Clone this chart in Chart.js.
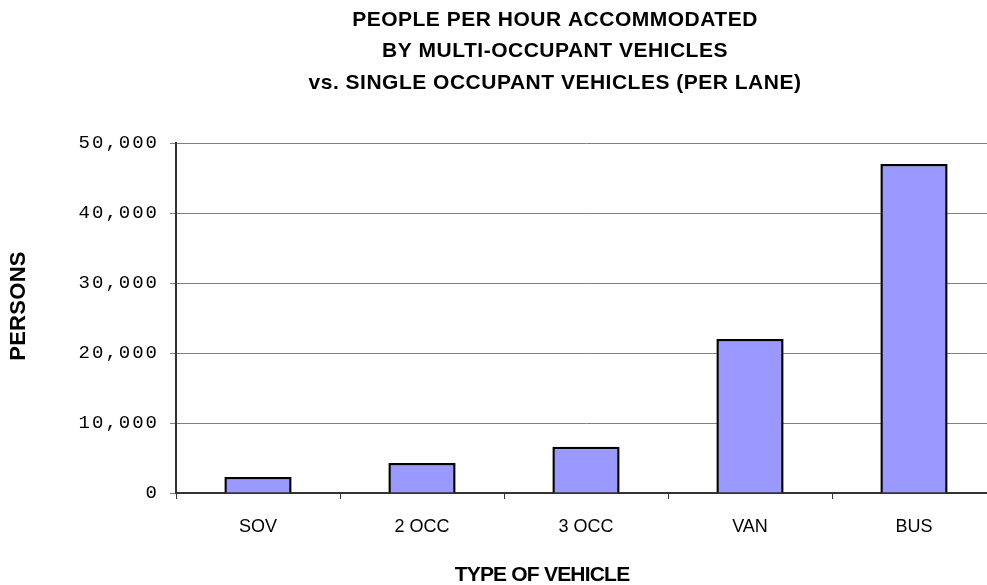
<!DOCTYPE html>
<html>
<head>
<meta charset="utf-8">
<script src="https://cdn.jsdelivr.net/npm/chart.js@4"></script>
<style>
  html, body { margin: 0; padding: 0; background: #fff; overflow: hidden; }
  #wrap { position: relative; width: 1000px; height: 585px; }
</style>
</head>
<body>
<div id="wrap"><canvas id="chart"></canvas></div>
<script>
// values
const vehicleTypes = ["SOV", "2 OCC", "3 OCC", "VAN", "BUS"];
const personsPerHour = [2300, 4300, 6600, 22000, 47000];
const titleLines = [
  "PEOPLE PER HOUR ACCOMMODATED",
  "BY MULTI-OCCUPANT VEHICLES",
  "vs. SINGLE OCCUPANT VEHICLES (PER LANE)",
];
const xTitle = "TYPE OF VEHICLE";
const yTitle = "PERSONS";

// tick labels use a spaced typewriter look; categories stay plain
const textPlugin = {
  id: "textPlugin",
  beforeDraw(chart) {
    chart.ctx.letterSpacing = "2px";
  },
  afterDatasetsDraw(chart) {
    chart.ctx.letterSpacing = "0px";
  },
  afterDraw(chart) {
    const ctx = chart.ctx;
    ctx.save();
    ctx.fillStyle = "#000";
    ctx.textAlign = "center";
    ctx.textBaseline = "middle";
    ctx.font = "bold 21px 'Liberation Sans', Arial, sans-serif";
    ctx.letterSpacing = "0.5px";
    titleLines.forEach((line, i) => {
      ctx.fillText(line, 555, 20 + i * 31.5);
    });
    ctx.letterSpacing = "-0.8px";
    ctx.fillText(xTitle, 542, 575);
    ctx.letterSpacing = "0.3px";
    ctx.font = "bold 22px 'Liberation Sans', Arial, sans-serif";
    ctx.translate(19, 306);
    ctx.rotate(-Math.PI / 2);
    ctx.fillText(yTitle, 0, 0);
    ctx.restore();
  },
};

new Chart(document.getElementById("chart"), {
  type: "bar",
  data: {
    labels: vehicleTypes,
    datasets: [
      {
        data: personsPerHour,
        backgroundColor: "#9999ff",
        borderColor: "#000",
        borderWidth: 2.5,
        barPercentage: 0.41,
        categoryPercentage: 1,
      },
    ],
  },
  options: {
    responsive: true,
    maintainAspectRatio: false,
    animation: false,
    layout: {
      padding: { top: 143, right: 4, left: 0, bottom: 0 },
    },
    plugins: {
      legend: { display: false },
      title: { display: false },
      tooltip: { enabled: false },
    },
    scales: {
      x: {
        offset: true,
        afterFit(scale) {
          scale.height = 92;
        },
        grid: {
          display: true,
          drawOnChartArea: false,
          offset: true,
          tickLength: 6,
          color: "#333",
        },
        border: { color: "#333", width: 2 },
        ticks: {
          z: 1,
          color: "#000",
          padding: 17,
          font: { family: "'Liberation Sans', Arial, sans-serif", size: 18 },
        },
      },
      y: {
        min: 0,
        max: 50000,
        afterFit(scale) {
          scale.width = 176;
        },
        grid: {
          color: "#808080",
          tickLength: 6,
        },
        border: { color: "#333", width: 2 },
        ticks: {
          stepSize: 10000,
          color: "#000",
          padding: 11,
          font: { family: "'Liberation Mono', 'Courier New', monospace", size: 19 },
          callback: (v) => v.toLocaleString("en-US"),
        },
      },
    },
  },
  plugins: [textPlugin],
});
</script>
</body>
</html>
